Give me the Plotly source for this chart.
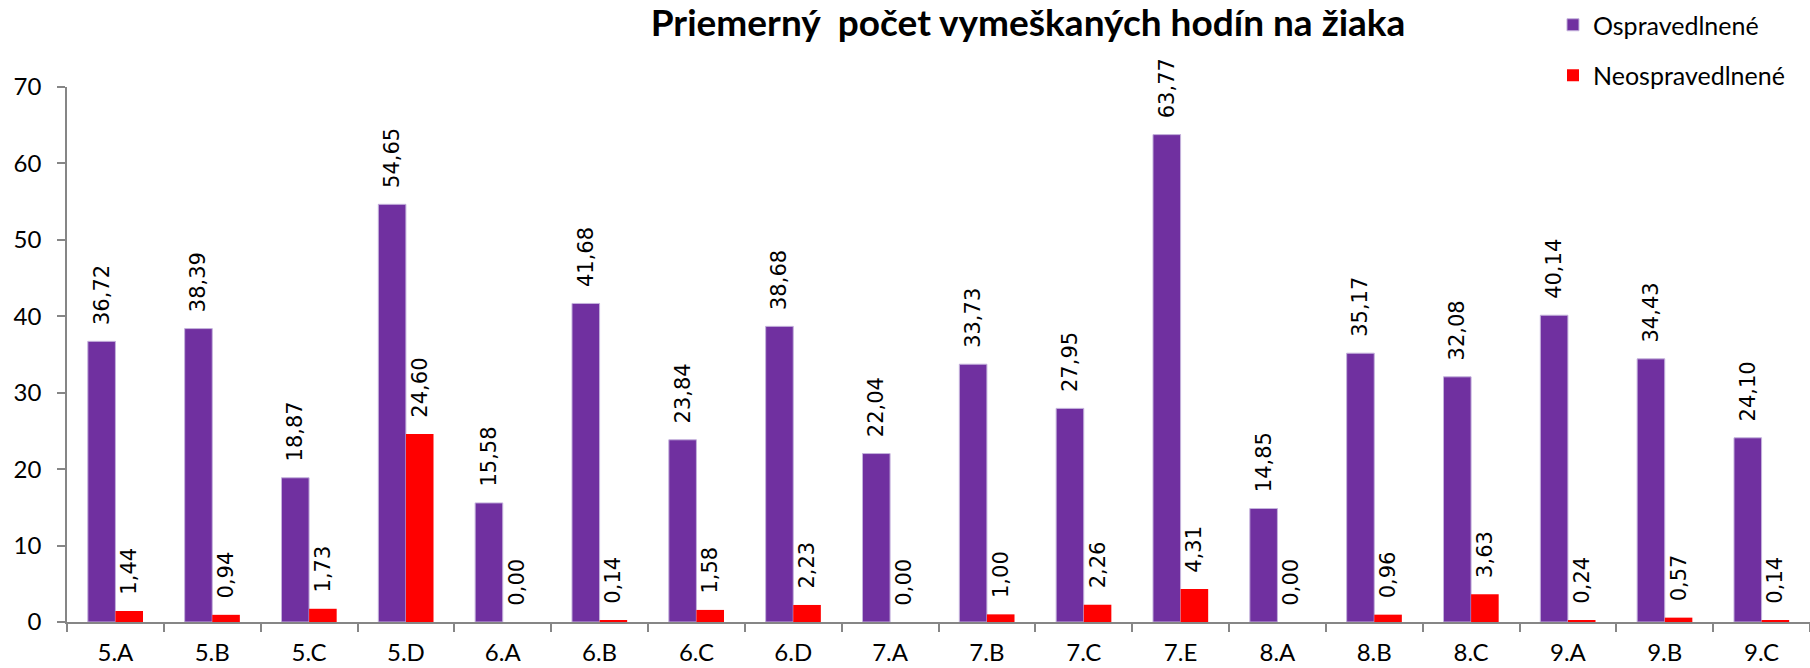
import plotly.graph_objects as go

categories = ["5.A", "5.B", "5.C", "5.D", "6.A", "6.B", "6.C", "6.D", "7.A", "7.B",
              "7.C", "7.E", "8.A", "8.B", "8.C", "9.A", "9.B", "9.C"]
ospravedlnene = [36.72, 38.39, 18.87, 54.65, 15.58, 41.68, 23.84, 38.68, 22.04, 33.73,
                 27.95, 63.77, 14.85, 35.17, 32.08, 40.14, 34.43, 24.10]
neospravedlnene = [1.44, 0.94, 1.73, 24.60, 0.00, 0.14, 1.58, 2.23, 0.00, 1.00,
                   2.26, 4.31, 0.00, 0.96, 3.63, 0.24, 0.57, 0.14]
y_ticks = [0, 10, 20, 30, 40, 50, 60, 70]

title_text = "Priemerný\u00a0\u00a0počet vymeškaných hodín na žiaka"
label_font = dict(family="DejaVu Sans", size=21, color="black")

fig = go.Figure()
fig.add_trace(go.Bar(
    x=categories, y=ospravedlnene, name="Ospravedlnené",
    legendgroup="a",
    marker=dict(color="#7030A0", line=dict(color="#C4B2DC", width=1)),
    texttemplate="\u00a0\u00a0%{y:.2f}", textposition="outside", textangle=-90,
    textfont=label_font, constraintext="none", cliponaxis=False,
))
fig.add_trace(go.Bar(
    x=categories, y=neospravedlnene, name="Neospravedlnené",
    legendgroup="b",
    marker=dict(color="#FF0000", line=dict(width=0)),
    texttemplate="\u00a0\u00a0%{y:.2f}", textposition="outside", textangle=-90,
    textfont=label_font, constraintext="none", cliponaxis=False,
))

fig.update_layout(
    width=1810, height=668,
    margin=dict(l=67, r=0, t=87, b=46, autoexpand=False),
    paper_bgcolor="white", plot_bgcolor="white",
    separators=", ",
    barmode="group", bargap=0.43, bargroupgap=0,
    title=dict(text=title_text, x=0.568, xanchor="center", y=0.966, yanchor="middle",
               xref="container", yref="container",
               font=dict(family="Lato", size=37, color="black", weight="bold")),
    font=dict(family="Lato", size=24, color="black"),
    legend=dict(x=0.858, xanchor="left", y=0.997, yanchor="top",
                xref="container", yref="container",
                font=dict(family="Lato", size=25, color="black"),
                traceorder="grouped", tracegroupgap=15, bgcolor="rgba(0,0,0,0)"),
    showlegend=True,
)
fig.update_xaxes(
    type="category", showline=True, linecolor="#868686", linewidth=1.5,
    ticks="outside", tickson="boundaries", ticklen=8, tickcolor="#868686", tickwidth=1.5,
    tickfont=dict(family="Lato", size=24, color="black"), showgrid=False,
    ticklabelstandoff=8, automargin=False,
)
fig.update_yaxes(
    range=[0, 70], tickvals=y_ticks, showline=True, linecolor="#868686", linewidth=1.5,
    ticks="outside", ticklen=8, tickcolor="#868686", tickwidth=1.5,
    tickfont=dict(family="Lato", size=24, color="black"), showgrid=False, zeroline=False,
    ticklabelstandoff=11, automargin=False,
)

fig.write_html("out.html",
               config={"displayModeBar": False},
               post_script="document.body.style.margin='0';document.body.style.overflow='hidden';")
